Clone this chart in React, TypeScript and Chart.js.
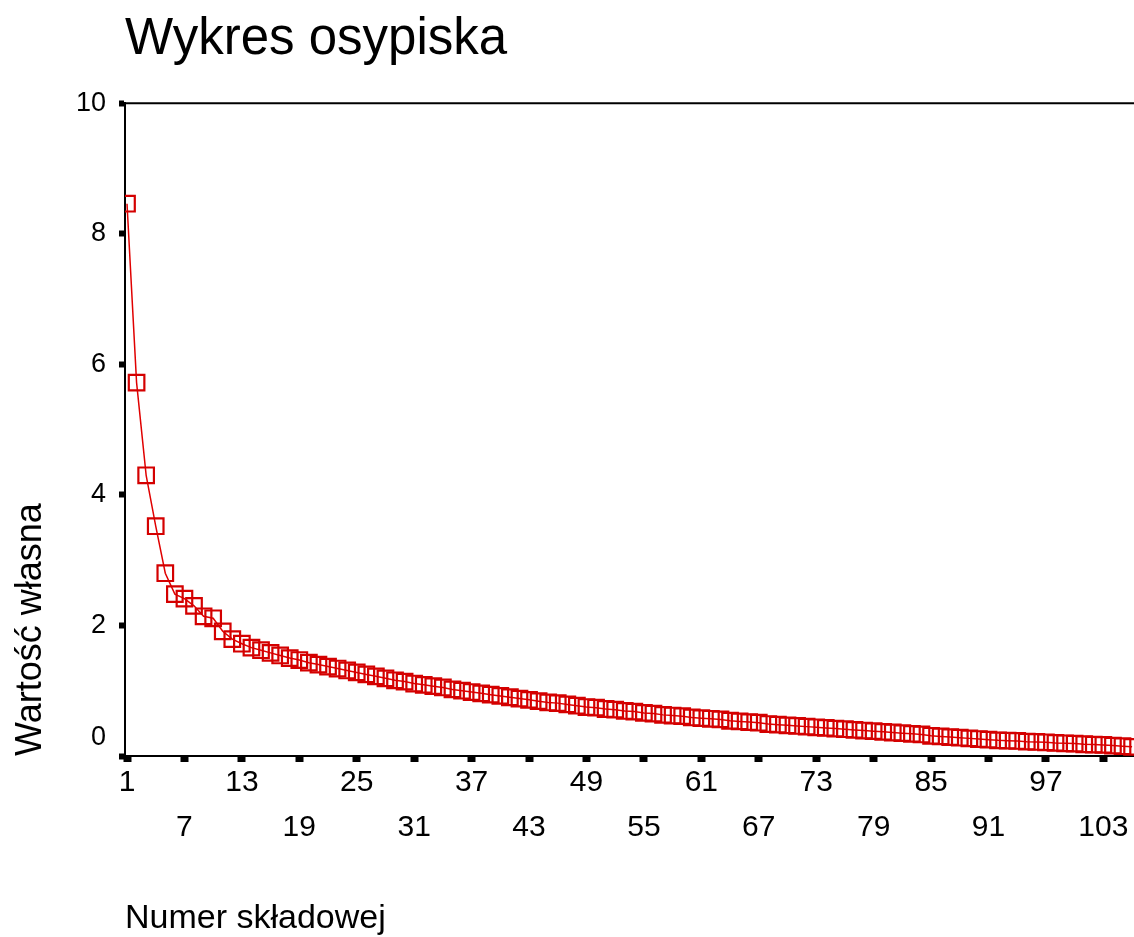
import React, { useEffect, useRef } from 'react';
import { Chart, registerables } from 'chart.js';

Chart.register(...registerables);

// Eigenvalues (Wartość własna) for each component
const eigenvalues: number[] = [
  8.46, 5.72, 4.30, 3.52, 2.80, 2.48, 2.41, 2.30, 2.14, 2.11,
  1.91, 1.79, 1.72, 1.66, 1.62, 1.58, 1.54, 1.50, 1.47, 1.43,
  1.40, 1.37, 1.34, 1.31, 1.28, 1.25, 1.22, 1.19, 1.16, 1.14,
  1.11, 1.09, 1.07, 1.05, 1.02, 1.00, 0.98, 0.96, 0.94, 0.92,
  0.90, 0.88, 0.86, 0.84, 0.82, 0.81, 0.79, 0.77, 0.75, 0.74,
  0.72, 0.71, 0.69, 0.68, 0.66, 0.65, 0.63, 0.62, 0.61, 0.59,
  0.58, 0.57, 0.56, 0.54, 0.53, 0.52, 0.51, 0.49, 0.48, 0.47,
  0.46, 0.45, 0.44, 0.43, 0.42, 0.41, 0.40, 0.39, 0.38, 0.37,
  0.36, 0.35, 0.34, 0.33, 0.31, 0.30, 0.29, 0.28, 0.27, 0.26,
  0.25, 0.24, 0.235, 0.23, 0.22, 0.215, 0.21, 0.20, 0.195, 0.19,
  0.18, 0.175, 0.17, 0.16, 0.15, 0.14,
];

// Component numbers (Numer składowej)
const componentNumbers: number[] = eigenvalues.map((_, i) => i + 1);

// Tick labels on the x axis (alternating two rows)
const xTickValues: number[] = [1, 7, 13, 19, 25, 31, 37, 43, 49, 55, 61, 67, 73, 79, 85, 91, 97, 103];

// Y axis ticks
const yMin = 0;
const yMax = 10;
const yStep = 2;

const titleText = 'Wykres osypiska';
const xTitle = 'Numer składowej';
const yTitle = 'Wartość własna';

const FONT = '"Liberation Sans", Arial, Helvetica, sans-serif';

const topBorder = {
  id: 'topBorder',
  afterDatasetsDraw(chart: any) {
    const { ctx, chartArea } = chart;
    ctx.save();
    ctx.strokeStyle = '#000';
    ctx.lineWidth = 2;
    ctx.beginPath();
    ctx.moveTo(chartArea.left - 1, chartArea.top);
    ctx.lineTo(chartArea.right, chartArea.top);
    ctx.stroke();
    ctx.restore();
  },
};

export default function App() {
  const canvasRef = useRef<HTMLCanvasElement | null>(null);

  useEffect(() => {
    if (!canvasRef.current) return;
    Chart.defaults.font.family = FONT;
    Chart.defaults.color = '#000';

    const chart = new Chart(canvasRef.current, {
      type: 'line',
      data: {
        datasets: [
          {
            data: eigenvalues.map((v, i) => ({ x: componentNumbers[i], y: v })),
            borderColor: '#e00000',
            borderWidth: 1.5,
            backgroundColor: 'transparent',
            pointStyle: 'rect',
            pointRadius: 11,
            pointBorderWidth: 2.2,
            pointBorderColor: '#d40000',
            pointBackgroundColor: 'transparent',
            tension: 0,
            fill: false,
          },
        ],
      },
      options: {
        responsive: false,
        animation: false,
        events: [],
        layout: { padding: 0, autoPadding: false },
        plugins: {
          legend: { display: false },
          tooltip: { enabled: false },
          title: {
            display: true,
            text: titleText,
            align: 'start',
            fullSize: false,
            color: '#000',
            font: { family: FONT, size: 51, weight: 'normal', lineHeight: 1.2 },
            padding: { top: 9, bottom: 33 },
          },
        },
        scales: {
          x: {
            type: 'linear',
            min: 0.79,
            max: 106.2,
            afterBuildTicks: (scale: any) => {
              scale.ticks = xTickValues.map((v) => ({ value: v }));
            },
            afterFit: (scale: any) => {
              scale.height = 181;
              scale.paddingLeft = 0;
              scale.paddingRight = 0;
            },
            ticks: {
              autoSkip: false,
              maxRotation: 0,
              minRotation: 0,
              color: '#000',
              padding: 9,
              font: { family: FONT, size: 30, lineHeight: '22.75px' },
              callback: (value: any, index: number) =>
                index % 2 === 0 ? String(value) : ['', '', String(value)],
            },
            grid: {
              drawOnChartArea: false,
              drawTicks: true,
              tickLength: 6,
              tickWidth: 8,
              tickColor: '#000',
            },
            border: { display: true, color: '#000', width: 2 },
            title: {
              display: true,
              text: xTitle,
              align: 'start',
              color: '#000',
              font: { family: FONT, size: 34, lineHeight: 1.1 },
              padding: 0,
            },
          },
          y: {
            min: yMin,
            max: yMax,
            afterFit: (scale: any) => {
              scale.width = 125;
              scale.paddingTop = 0;
              scale.paddingBottom = 0;
            },
            ticks: {
              stepSize: yStep,
              color: '#000',
              padding: 13,
              font: { family: FONT, size: 27, lineHeight: '36px' },
              callback: (value: any) => (value === 0 ? ['0', ''] : String(value)),
            },
            grid: {
              drawOnChartArea: false,
              drawTicks: true,
              tickLength: 6,
              tickWidth: 6,
              tickColor: '#000',
            },
            border: { display: true, color: '#000', width: 2 },
            title: {
              display: true,
              text: yTitle,
              align: 'start',
              color: '#000',
              font: { family: FONT, size: 36, lineHeight: 1.2 },
              padding: { top: 9, bottom: 0 },
            },
          },
        },
      },
      plugins: [topBorder],
    } as any);

    return () => {
      chart.destroy();
    };
  }, []);

  return (
    <div style={{ position: 'absolute', left: 0, top: 0, width: 1134, height: 937, background: '#fff' }}>
      <canvas ref={canvasRef} width={1134} height={937} style={{ display: 'block' }} />
    </div>
  );
}
